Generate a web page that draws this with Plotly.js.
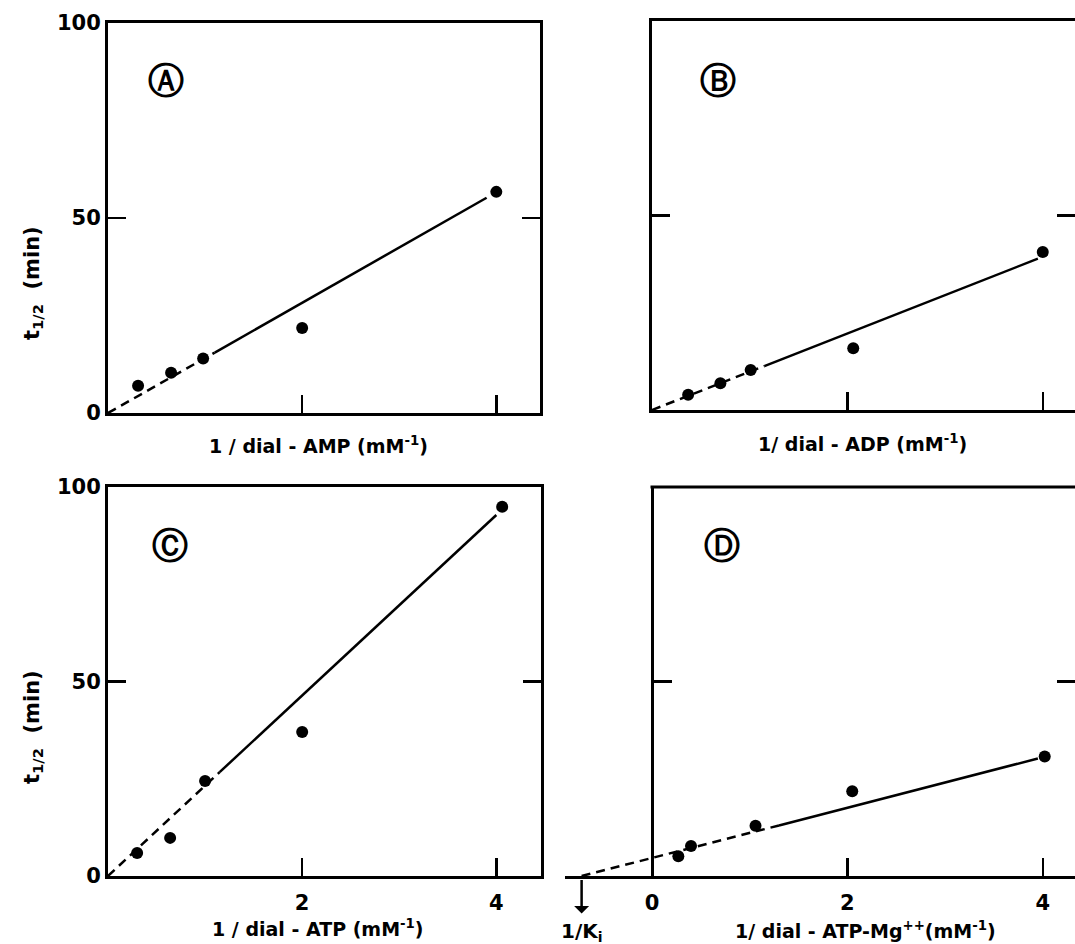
<!DOCTYPE html>
<html>
<head>
<meta charset="utf-8">
<script src="https://cdn.plot.ly/plotly-3.0.1.min.js"></script>
<style>
  body { margin: 0; background: #fff; }
  #grafico { width: 1075px; height: 944px; }
</style>
</head>
<body>
<div id="grafico"></div>
<script>
// A: dial-AMP
var ampX = [0.31, 0.65, 0.98, 2.0, 4.0];
var ampY = [7.0, 10.3, 14.0, 21.8, 56.7];
var ampFitDashX = [0, 1.1];
var ampFitDashY = [0, 15.5];
var ampFitX = [1.1, 3.9];
var ampFitY = [15.5, 55.2];

// B: dial-ADP
var adpX = [0.37, 0.70, 1.01, 2.06, 4.0];
var adpY = [3.9, 6.9, 10.3, 15.9, 40.6];
var adpFitDashX = [0, 1.15];
var adpFitDashY = [0, 11.3];
var adpFitX = [1.15, 3.95];
var adpFitY = [11.3, 38.9];

// C: dial-ATP
var atpX = [0.30, 0.64, 1.0, 2.0, 4.06];
var atpY = [5.9, 9.8, 24.4, 37.0, 94.9];
var atpFitDashX = [0, 1.15];
var atpFitDashY = [0, 26.7];
var atpFitX = [1.15, 4.0];
var atpFitY = [26.7, 92.8];

// D: dial-ATP-Mg++
var mgX = [0.27, 0.40, 1.06, 2.05, 4.02];
var mgY = [5.1, 7.7, 12.9, 21.8, 30.7];
var mgFitDashX = [-0.72, 1.3];
var mgFitDashY = [0, 13.0];
var mgFitX = [1.3, 3.95];
var mgFitY = [13.0, 30.2];

var yTicks = [0, 50, 100];
var yTickText = ['0', '50', '100'];
var xTicks = [2, 4];
var xTicksD = [0, 2, 4];

var negro = 'black';
var fuente = 'DejaVu Sans';

function puntos(x, y, xa, ya) {
  return {x: x, y: y, xaxis: xa, yaxis: ya, mode: 'markers', type: 'scatter',
    marker: {color: negro, size: 12}, hoverinfo: 'skip'};
}
function recta(x, y, xa, ya, dash) {
  return {x: x, y: y, xaxis: xa, yaxis: ya, mode: 'lines', type: 'scatter',
    line: {color: negro, width: 2.5, dash: dash}, hoverinfo: 'skip'};
}

var data = [
  recta(ampFitDashX, ampFitDashY, 'x', 'y', '9px,6px'),
  recta(ampFitX, ampFitY, 'x', 'y', 'solid'),
  puntos(ampX, ampY, 'x', 'y'),
  recta(adpFitDashX, adpFitDashY, 'x2', 'y2', '9px,6px'),
  recta(adpFitX, adpFitY, 'x2', 'y2', 'solid'),
  puntos(adpX, adpY, 'x2', 'y5'),
  recta(atpFitDashX, atpFitDashY, 'x3', 'y3', '9px,6px'),
  recta(atpFitX, atpFitY, 'x3', 'y3', 'solid'),
  puntos(atpX, atpY, 'x3', 'y3'),
  recta(mgFitDashX, mgFitDashY, 'x4', 'y4', '9px,6px'),
  recta(mgFitX, mgFitY, 'x4', 'y4', 'solid'),
  puntos(mgX, mgY, 'x4', 'y6')
];

function eje(extra) {
  var base = {
    showline: true, linewidth: 3, linecolor: negro,
    showgrid: false, zeroline: false,
    ticks: 'inside', ticklen: 18, tickwidth: 2.5, tickcolor: negro,
    tickfont: {family: fuente, size: 21, color: negro, weight: 'bold'},
    fixedrange: true
  };
  for (var k in extra) base[k] = extra[k];
  return base;
}

var W = 1075, H = 944;
function px(v) { return v / W; }
function py(v) { return 1 - v / H; }

function texto(t, x, y, size, extra) {
  var a = {text: t, xref: 'paper', yref: 'paper', x: px(x), y: py(y),
    xanchor: 'center', yanchor: 'middle', showarrow: false,
    font: {family: fuente, size: size, color: negro, weight: 'bold'}};
  for (var k in extra) a[k] = extra[k];
  return a;
}

var layout = {
  width: W, height: H,
  margin: {l: 0, r: 0, t: 0, b: 0},
  paper_bgcolor: 'white', plot_bgcolor: 'white',
  showlegend: false,
  font: {family: fuente, color: negro},
  // A
  xaxis: eje({domain: [px(108), px(540)], range: [0, 4.45], anchor: 'y', mirror: true,
    tickvals: xTicks, showticklabels: false}),
  yaxis: eje({domain: [py(413), py(23)], range: [0, 100], anchor: 'x', mirror: 'ticks',
    tickvals: yTicks, ticktext: yTickText}),
  // B
  xaxis2: eje({domain: [px(652), 1], range: [0, 4.33], anchor: 'y2', mirror: true,
    tickvals: xTicks, showticklabels: false}),
  yaxis2: eje({domain: [py(410), py(21)], range: [0, 100], anchor: 'x2',
    tickvals: yTicks, showticklabels: false}),
  yaxis5: eje({overlaying: 'y2', side: 'right', anchor: 'x2', range: [0, 100], showline: false,
    tickvals: [50], showticklabels: false}),
  // C
  xaxis3: eje({domain: [px(108), px(541)], range: [0, 4.46], anchor: 'y3', mirror: true,
    tickvals: xTicks, ticktext: ['2', '4'], ticklabelstandoff: 6}),
  yaxis3: eje({domain: [py(876), py(487)], range: [0, 100], anchor: 'x3', mirror: 'ticks',
    tickvals: yTicks, ticktext: yTickText}),
  // D: the x axis runs left of the box to show the intercept
  xaxis4: eje({domain: [px(565), 1], range: [-0.89, 4.33], anchor: 'y4',
    tickvals: xTicksD, ticktext: ['0', '2', '4'], ticklabelstandoff: 6}),
  yaxis4: eje({domain: [py(876), py(487)], range: [0, 100], anchor: 'free', position: px(652),
    tickvals: yTicks, showticklabels: false}),
  yaxis6: eje({overlaying: 'y4', side: 'right', anchor: 'free', position: 1, range: [0, 100],
    showline: false, tickvals: [50], showticklabels: false}),
  shapes: [
    // top edge of box D
    {type: 'line', xref: 'paper', yref: 'y4 domain', x0: px(650.5), x1: 1, y0: 1, y1: 1,
      line: {color: negro, width: 3}}
  ],
  annotations: [
    texto('Ⓐ', 166, 80, 36),
    texto('Ⓑ', 718, 80, 36),
    texto('Ⓒ', 170, 545, 36),
    texto('Ⓓ', 722, 545, 36),
    texto('t<sub>1/2</sub>\u00a0\u00a0(min)', 33, 283, 21, {textangle: -90}),
    texto('t<sub>1/2</sub>\u00a0\u00a0(min)', 33, 727, 21, {textangle: -90}),
    texto('1 / dial - AMP (mM<sup>-1</sup>)', 318, 445, 19),
    texto('1/ dial - ADP (mM<sup>-1</sup>)', 862, 443, 19),
    texto('1 / dial - ATP (mM<sup>-1</sup>)', 318, 928, 19),
    texto('1/ dial - ATP-Mg<sup>++</sup>(mM<sup>-1</sup>)', 865, 930, 19),
    {text: '1/K<sub>i</sub>', xref: 'x4', yref: 'paper', x: mgFitDashX[0], y: py(880),
      ax: 0, ay: 52, showarrow: true, arrowside: 'start', arrowhead: 2, arrowwidth: 2.5,
      arrowcolor: negro, startstandoff: 4,
      font: {family: fuente, size: 20, color: negro, weight: 'bold'}}
  ]
};

Plotly.newPlot('grafico', data, layout, {staticPlot: true});
</script>
</body>
</html>
